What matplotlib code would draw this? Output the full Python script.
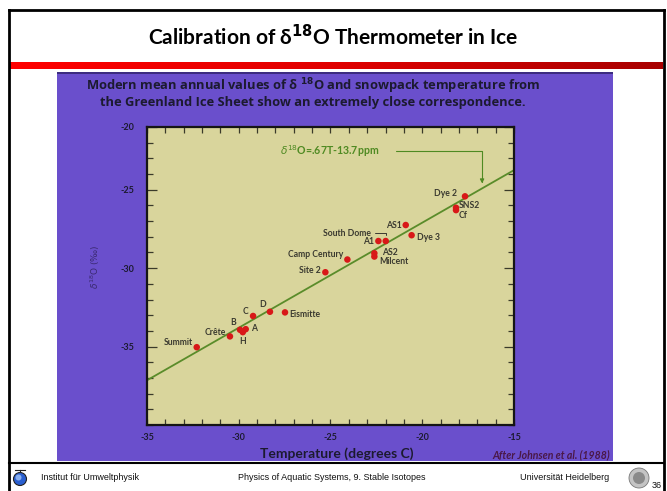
import matplotlib
matplotlib.use("Agg")
import matplotlib.pyplot as plt
import numpy as np
from matplotlib.patches import Rectangle, Circle
from matplotlib.ticker import MultipleLocator, FixedLocator
from matplotlib.colors import LinearSegmentedColormap

# ---------------- data ----------------
site_names = ["Summit", "Crête", "H", "B", "A", "C", "D", "Eismitte", "Site 2",
              "Camp Century", "AS2", "Milcent", "A1", "South Dome", "AS1", "Dye 3",
              "SNS2", "Cf", "Dye 2"]
temperature = [-32.29, -30.48, -29.78, -29.93, -29.62, -29.22, -28.30, -27.48, -25.28,
               -24.08, -22.61, -22.61, -22.39, -21.99, -20.90, -20.58,
               -18.16, -18.16, -17.67]
d18o = [-35.04, -34.35, -34.08, -33.93, -33.89, -33.05, -32.78, -32.82, -30.26,
        -29.45, -29.05, -29.26, -28.27, -28.27, -27.25, -27.90,
        -26.15, -26.30, -25.42]
fit_T = [-35, -15]
fit_d18o = [-37.15, -23.75]
x_ticks = [-35, -30, -25, -20, -15]
x_tick_labels = ["-35", "-30", "-25", "-20", "-15"]
y_ticks = [-21, -25, -30, -35]
y_tick_labels = ["-20", "-25", "-30", "-35"]
equation_text = r"$\delta^{18}$O=.67T-13.7ppm"
equation_arrow_target = (-16.74, -24.6)

# label layout (offset pixels, alignment)
label_layout = {
    "Summit": (-4, 5, "right"), "Crête": (-4, 4, "right"), "H": (0, -9, "center"),
    "B": (-7, 7, "center"), "A": (5, 1, "left"), "C": (-5, 4, "right"),
    "D": (-7, 7, "center"), "Eismitte": (4, -2, "left"), "Site 2": (-5, 2, "right"),
    "Camp Century": (-4, 5, "right"), "AS2": (8, 1, "left"), "Milcent": (5, -5, "left"),
    "A1": (-4, 0, "right"), "AS1": (-4, 0, "right"), "Dye 3": (5, -2, "left"),
    "SNS2": (3, 2, "left"), "Cf": (3, -5, "left"), "Dye 2": (-8, 3, "right"),
}

W, H = 667, 491
fig = plt.figure(figsize=(W / 100, H / 100), dpi=100)
fig.patch.set_facecolor("white")
FAM = ["Lato", "DejaVu Sans"]

# background pixel-space axes
bg = fig.add_axes([0, 0, 1, 1])
bg.set_xlim(0, W)
bg.set_ylim(H, 0)
bg.axis("off")

# slide frame
bg.plot([9, 9], [10, H], color="black", lw=2)
bg.plot([9, 664], [10, 10], color="black", lw=2)
bg.plot([664, 664], [10, H], color="black", lw=2)
bg.plot([9, 664], [463, 463], color="black", lw=1.5)

# title
bg.text(333, 37, r"Calibration of δ$^{\mathbf{18}}$O Thermometer in Ice",
        ha="center", va="center", fontsize=15, fontweight="bold", family=FAM,
        color="black")

# red gradient bar
grad = np.linspace(0, 1, 256).reshape(1, -1)
cm = LinearSegmentedColormap.from_list("rb", ["#ff0000", "#e00000", "#a80000"])
bg.imshow(grad, cmap=cm, extent=[10, 663, 69, 62], aspect="auto", zorder=1)

# purple photo
bg.add_patch(Rectangle((57, 72), 556, 389, facecolor="#6a4fcc", edgecolor="none", zorder=1))
bg.add_patch(Rectangle((57, 72), 556, 2, facecolor="#3c2c80", edgecolor="none", zorder=1))

txt_dark = "#1c1a30"
SUBFAM = ["Open Sans", "DejaVu Sans"]
bg.text(313, 86.5, r"Modern mean annual values of δ $^{\mathbf{18}}$O and snowpack temperature from",
        ha="center", va="center", fontsize=9.3, fontweight="bold", family=SUBFAM, color=txt_dark, zorder=3)
bg.text(313, 102.5, "the Greenland Ice Sheet show an extremely close correspondence.",
        ha="center", va="center", fontsize=9.3, fontweight="bold", family=SUBFAM, color=txt_dark, zorder=3)

# axis labels on purple
bg.text(95, 267, r"$\delta^{18}$O (‰)", rotation=90, ha="center", va="center",
        fontsize=6.5, color="#3a2a70", zorder=3)
bg.text(337, 454, "Temperature (degrees C)", ha="center", va="center", fontsize=10,
        fontweight="bold", family=FAM, color=txt_dark, zorder=3)
bg.text(610, 455, "After Johnsen et al. (1988)", ha="right", va="center", fontsize=7.6,
        fontweight="bold", style="italic", family=FAM, color="#4a1848", zorder=3)

# footer
foot_kw = dict(fontsize=6.5, family="Liberation Sans", color="#111111", va="center")
bg.text(41, 477, "Institut für Umweltphysik", ha="left", **foot_kw)
bg.text(332, 477, "Physics of Aquatic Systems, 9. Stable Isotopes", ha="center", **foot_kw)
bg.text(609, 477, "Universität Heidelberg", ha="right", **foot_kw)
bg.add_patch(Circle((20, 479), 6.5, facecolor="#2a5fd0", edgecolor="#222222", lw=0.8, zorder=3))
bg.add_patch(Circle((18.5, 477.5), 3, facecolor="#8ab0f0", edgecolor="none", zorder=3))
bg.plot([15, 25], [470, 470], color="#222222", lw=0.8)
bg.plot([20, 20], [470, 473], color="#222222", lw=0.8)
bg.add_patch(Circle((639, 478), 10, facecolor="#c4c4c4", edgecolor="#777777", lw=0.6, zorder=3))
bg.add_patch(Circle((639, 478), 6, facecolor="#8a8a8a", edgecolor="none", zorder=3))
bg.text(652, 486, "36", ha="left", va="center", fontsize=6.5, family="Liberation Sans", color="#111111", zorder=4)

# ---------------- main chart ----------------
ax = fig.add_axes([147 / W, 1 - 425 / H, (514 - 147) / W, (425 - 127) / H])
ax.set_facecolor("#d9d59c")
ax.set_xlim(-35, -15)
ax.set_ylim(-40, -21)
for s in ax.spines.values():
    s.set_color("#151515")
    s.set_linewidth(1.6)

ax.xaxis.set_major_locator(FixedLocator(x_ticks))
ax.set_xticklabels(x_tick_labels)
ax.xaxis.set_minor_locator(MultipleLocator(1))
ax.yaxis.set_major_locator(FixedLocator(y_ticks))
ax.set_yticklabels(y_tick_labels)
ax.yaxis.set_minor_locator(MultipleLocator(1))
ax.tick_params(which="both", direction="in", top=True, right=True, color="#3a3a2a", width=0.9)
ax.tick_params(which="major", length=7, pad=9)
ax.tick_params(which="minor", length=4.5)
ax.tick_params(axis="x", which="major", length=4.5, pad=6)
for lab in ax.get_xticklabels() + ax.get_yticklabels():
    lab.set_fontsize(6.5)
    lab.set_fontweight("bold")
    lab.set_family(FAM)
    lab.set_color(txt_dark)

ax.plot(fit_T, fit_d18o, color="#5a8c2a", lw=1.3, zorder=2, clip_on=True)
ax.scatter(temperature, d18o, s=22, color="#d81818", edgecolors="none", zorder=3)

lab_kw = dict(fontsize=6.2, fontweight="bold", family=FAM, color="#3b3a30")
for name, t, d in zip(site_names, temperature, d18o):
    if name == "South Dome":
        ax.annotate(name, xy=(t, d), xytext=(-15, 8), textcoords="offset pixels",
                    ha="right", va="center", zorder=4,
                    arrowprops=dict(arrowstyle="-", color="#3b3a30", lw=0.7,
                                    connectionstyle="angle,angleA=0,angleB=90,rad=0",
                                    shrinkA=1, shrinkB=4),
                    **lab_kw)
        continue
    dx, dy, ha = label_layout[name]
    ax.annotate(name, xy=(t, d), xytext=(dx, dy), textcoords="offset pixels",
                ha=ha, va="center", zorder=4, **lab_kw)

# equation annotation
ax.annotate(equation_text, xy=equation_arrow_target, xytext=(-27.75, -22.55),
            ha="left", va="center", fontsize=7.6, color="#4f8a22", fontweight="bold", family=FAM,
            arrowprops=dict(arrowstyle="-|>", color="#4f8a22", lw=0.8, mutation_scale=6,
                            connectionstyle="angle,angleA=0,angleB=90,rad=0",
                            shrinkA=10, shrinkB=0))

fig.savefig("out.png", dpi=100, facecolor="white")
